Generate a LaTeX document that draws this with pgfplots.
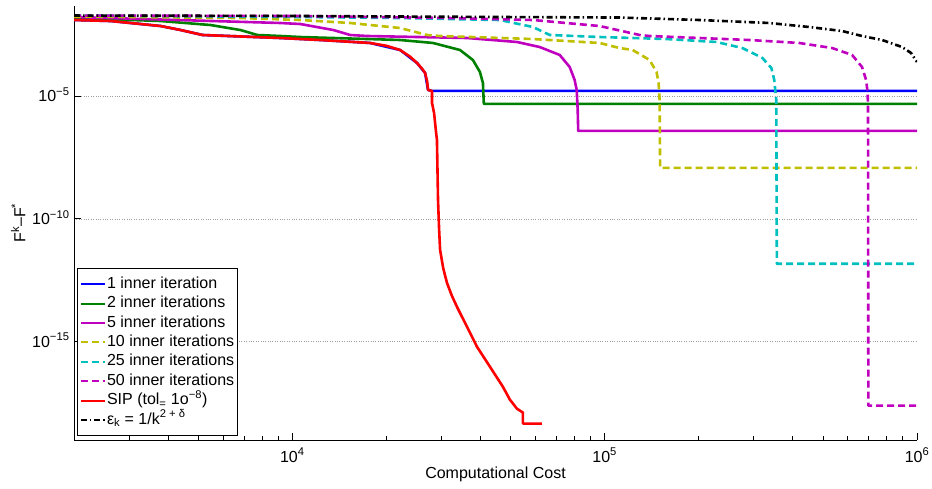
\documentclass[border=0pt]{standalone}
\usepackage{fontspec}
\setmainfont{Liberation Sans}
\usepackage{pgfplots}
\pgfplotsset{compat=1.18}
\usetikzlibrary{calc}

\definecolor{mgreen}{rgb}{0,0.5,0}
\definecolor{mmag}{rgb}{0.75,0,0.75}
\definecolor{myel}{rgb}{0.75,0.75,0}
\definecolor{mcyan}{rgb}{0,0.75,0.75}

\newcommand{\fs}{\fontsize{16bp}{19bp}\selectfont}

\begin{document}
\begin{tikzpicture}
\begin{axis}[
    scale only axis,
    width=843bp, height=434bp,
    xmode=log, ymode=log,
    xmin=2000, xmax=1e6,
    ymin=1e-19, ymax=0.0457,
    axis x line*=bottom, axis y line*=left,
    axis line style={line width=1bp, black},
    tick align=inside,
    major tick length=7bp, minor tick length=4bp,
    tick style={line width=0.8bp, black},
    xtick={1e4,1e5,1e6},
    xticklabels={10\textsuperscript{4},10\textsuperscript{5},10\textsuperscript{6}},
    minor xtick={3000,4000,5000,6000,7000,8000,9000,
                 20000,30000,40000,50000,60000,70000,80000,90000,
                 200000,300000,400000,500000,600000,700000,800000,900000},
    ytick={1e-15,1e-10,1e-5},
    yticklabels={10\textsuperscript{−15},10\textsuperscript{−10},10\textsuperscript{−5}},
    yminorticks=false,
    ymajorgrids,
    major grid style={dotted, gray!75, line width=0.6bp},
    tick label style={font=\fs},
    xticklabel style={anchor=base, yshift=-22bp},
    yticklabel style={anchor=base east, yshift=-5.5bp, xshift=-1bp},
    label style={font=\fs},
    xlabel={Computational Cost},
    xlabel style={at={(axis description cs:0.5,0)}, anchor=base, yshift=-38bp},
    ylabel={F\textsuperscript{k}–F\textsuperscript{*}},
    every axis plot/.append style={line width=2.6bp, line join=round},
    legend cell align=left,
    legend image code/.code={\draw[#1, line width=2bp] (0bp,0bp) -- (24bp,0bp);},
    legend style={at={(0.004,0.009)}, anchor=south west, draw=black,
        line width=0.8bp, fill=white, font=\fs,
        inner xsep=2bp, inner ysep=6bp, row sep=0bp,
        nodes={inner sep=1.25bp, text height=12.5bp, text depth=4.4bp}},
]

% 1 inner iteration
\addplot[blue] coordinates {
(2000,1.23e-2) (2621,1.12e-2) (3787,7.0e-3) (4388,4.82e-3) (5158,3.02e-3)
(9156,2.28e-3) (12288,1.89e-3) (17740,1.43e-3) (22130,7.41e-4) (25080,2.19e-4)
(26610,8.6e-5) (27200,1.75e-5) (28000,1.60e-5) (1e6,1.60e-5)
};
\addlegendentry{1 inner iteration}

% 2 inner iterations
\addplot[mgreen] coordinates {
(2000,1.48e-2) (3787,1.12e-2) (5470,7.69e-3) (6818,4.82e-3) (7730,3.02e-3)
(9156,2.75e-3) (10607,2.50e-3) (22130,1.89e-3) (28210,1.43e-3) (34420,7.41e-4)
(37850,2.91e-4) (39860,9.5e-5) (40760,3.37e-5) (41030,4.73e-6) (1e6,4.73e-6)
};
\addlegendentry{2 inner iterations}

% 5 inner iterations
\addplot[mmag] coordinates {
(2000,1.63e-2) (9156,9.3e-3) (10607,8.45e-3) (13520,4.82e-3) (15320,3.02e-3)
(17370,2.75e-3) (36230,2.28e-3) (52360,1.57e-3) (61910,9.8e-4) (71790,4.65e-4)
(77270,1.51e-4) (80130,4.47e-5) (81370,1.75e-5) (81960,2.70e-6) (82280,3.77e-7)
(1e6,3.77e-7)
};
\addlegendentry{5 inner iterations}

% 10 inner iterations
\addplot[myel, dash pattern=on 7bp off 4bp] coordinates {
(2000,1.71e-2) (6818,1.48e-2) (10607,1.23e-2) (15320,9.3e-3) (22130,5.81e-3)
(27000,3.02e-3) (29720,2.75e-3) (58930,2.07e-3) (96330,1.43e-3) (111700,8.9e-4)
(122900,7.41e-4) (139200,2.91e-4) (146600,9.5e-5) (148800,3.37e-5) (149900,6.9e-6)
(150500,1.18e-8) (1e6,1.18e-8)
};
\addlegendentry{10 inner iterations}

% 25 inner iterations
\addplot[mcyan, dash pattern=on 7bp off 4bp] coordinates {
(2000,1.87e-2) (10607,1.63e-2) (22130,1.48e-2) (46180,1.23e-2) (58930,6.38e-3)
(66710,3.02e-3) (96330,2.50e-3) (157800,2.07e-3) (228000,1.57e-3) (276100,8.9e-4)
(319900,3.51e-4) (341700,1.37e-4) (349100,4.47e-5) (354300,6.9e-6) (355800,1.48e-12)
(1e6,1.48e-12)
};
\addlegendentry{25 inner iterations}

% 50 inner iterations
\addplot[mmag, dash pattern=on 7bp off 4bp] coordinates {
(2000,1.87e-2) (10607,1.79e-2) (31980,1.48e-2) (58930,1.23e-2) (96330,7.0e-3)
(129400,3.02e-3) (139200,2.75e-3) (290400,1.89e-3) (419800,1.43e-3) (535000,8.9e-4)
(619800,4.65e-4) (666500,1.51e-4) (687200,4.47e-5) (695100,1.32e-5) (696900,2.70e-6)
(698600,2.5e-18) (1e6,2.5e-18)
};
\addlegendentry{50 inner iterations}

% SIP
\addplot[red] coordinates {
(2000,1.23e-2) (2621,1.12e-2) (3787,7.0e-3) (4388,4.82e-3) (5158,3.02e-3)
(9156,2.28e-3) (12288,1.89e-3) (17740,1.43e-3) (20000,1.1e-3) (22130,7.41e-4)
(23800,4.0e-4) (25080,2.19e-4) (26000,1.3e-4) (26610,8.6e-5) (27000,4.0e-5)
(27200,1.75e-5) (28000,1.60e-5) (28000,5.19e-6) (28430,2.04e-6)
(28840,3.44e-7) (29040,1.63e-7) (29270,5.9e-10) (29500,4.0e-11) (29720,5.5e-12)
(30400,1.0e-12) (31260,2.50e-13) (32400,7.5e-14) (33650,2.65e-14) (36230,4.07e-15)
(38990,6.3e-16) (42920,9.6e-17) (47200,1.48e-17)
(49720,4.39e-18) (52360,1.89e-18) (54740,1.30e-18) (54740,4.65e-19) (62910,4.65e-19)
};
\addlegendentry{SIP (tol\textsubscript{=} 1o\textsuperscript{−8})}

% epsilon_k
\addplot[black, dash pattern=on 6bp off 3bp on 1.5bp off 3bp] coordinates {
(2000,1.87e-2) (10607,1.79e-2) (46180,1.63e-2) (111700,1.55e-2) (201200,1.23e-2)
(336500,9.3e-3) (451800,6.38e-3) (575000,4.39e-3) (666500,2.75e-3) (773400,1.89e-3)
(895300,9.8e-4) (957000,5.6e-4) (1e6,2.41e-4)
};
\addlegendentry{ε\textsubscript{k} = 1/k\textsuperscript{2 + δ}}

\end{axis}
\pgfresetboundingbox
\path ($(current axis.south west)+(-74bp,-48bp)$) rectangle ($(current axis.north east)+(15bp,6bp)$);
\end{tikzpicture}
\end{document}
